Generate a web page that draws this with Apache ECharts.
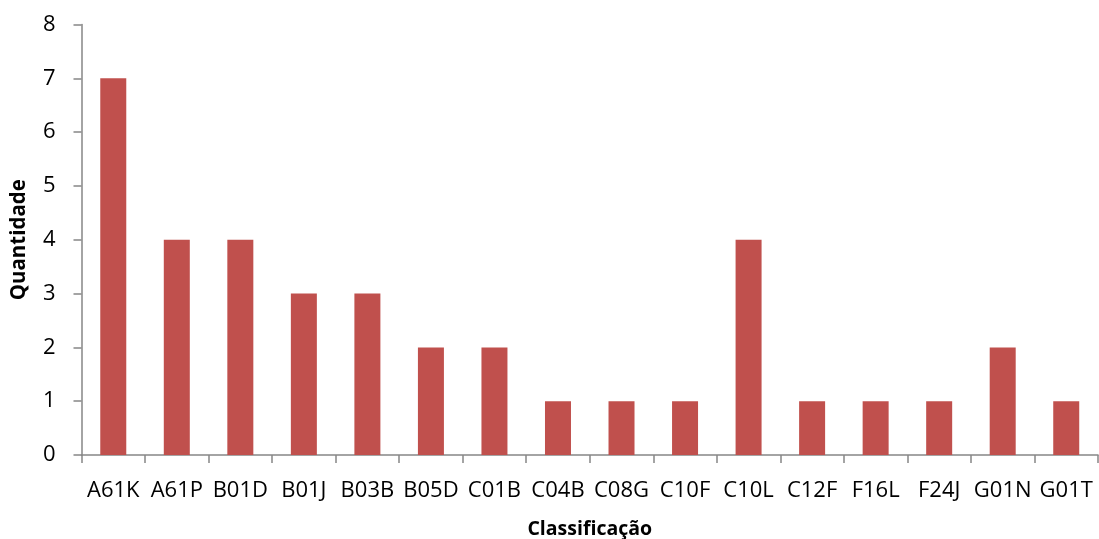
<!DOCTYPE html>
<html>
<head>
<meta charset="utf-8">
<script src="https://cdn.jsdelivr.net/npm/echarts@6/dist/echarts.min.js"></script>
<style>
  html, body { margin: 0; padding: 0; background: #fff; }
  #chart { width: 1099px; height: 539px; }
</style>
</head>
<body>
<div id="chart"></div>
<script>
// Patent classification codes and their counts
const categories = ['A61K', 'A61P', 'B01D', 'B01J', 'B03B', 'B05D', 'C01B', 'C04B', 'C08G', 'C10F', 'C10L', 'C12F', 'F16L', 'F24J', 'G01N', 'G01T'];
const quantities = [7, 4, 4, 3, 3, 2, 2, 1, 1, 1, 4, 1, 1, 1, 2, 1];

const FONT = '"Open Sans", "Liberation Sans", sans-serif';
const AXIS_COLOR = '#868686';

const chart = echarts.init(document.getElementById('chart'), null, { renderer: 'canvas' });
chart.setOption({
  animation: false,
  backgroundColor: '#ffffff',
  grid: { left: 81.5, right: 1, top: 24.5, bottom: 84, containLabel: false, outerBoundsMode: 'none' },
  xAxis: {
    type: 'category',
    data: categories,
    name: 'Classificação',
    nameLocation: 'middle',
    nameGap: 64,
    nameTextStyle: { fontFamily: FONT, fontSize: 19.5, fontWeight: 'bold', color: '#000' },
    axisLine: { lineStyle: { color: AXIS_COLOR, width: 1.5 } },
    axisTick: { show: true, alignWithLabel: false, length: 8, lineStyle: { color: AXIS_COLOR, width: 1.5 } },
    axisLabel: { fontFamily: FONT, fontSize: 22, color: '#000', margin: 25, interval: 0 }
  },
  yAxis: {
    type: 'value',
    min: 0,
    max: 8,
    interval: 1,
    name: 'Quantidade',
    nameLocation: 'middle',
    nameGap: 52,
    nameTextStyle: { fontFamily: FONT, fontSize: 20.5, fontWeight: 'bold', color: '#000' },
    axisLine: { show: true, lineStyle: { color: AXIS_COLOR, width: 1.5 } },
    axisTick: { show: true, length: 8, lineStyle: { color: AXIS_COLOR, width: 1.5 } },
    axisLabel: { fontFamily: FONT, fontSize: 22, color: '#000', margin: 26 },
    splitLine: { show: false }
  },
  series: [{
    type: 'bar',
    data: quantities,
    barWidth: 26,
    itemStyle: { color: '#C0504D' }
  }]
});
</script>
</body>
</html>
